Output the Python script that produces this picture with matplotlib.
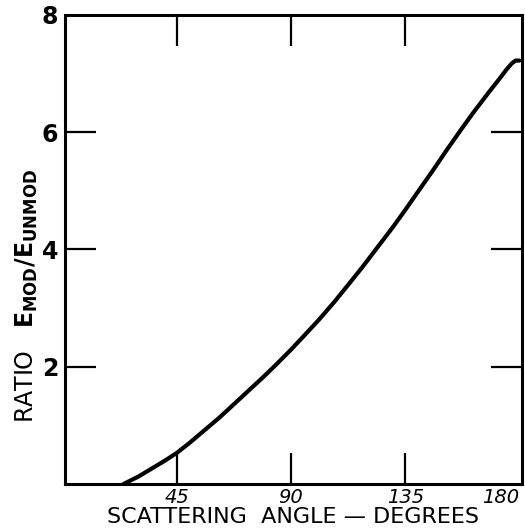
import matplotlib
matplotlib.use("Agg")
import matplotlib.pyplot as plt

angle = [24, 30, 35, 40, 45, 50, 56, 62, 67.5, 73, 79, 84, 90, 95, 101, 107, 113, 118, 124, 130, 135,
         140, 146, 151, 157, 162, 168, 172, 175, 177, 178.5, 180]
ratio = [0.0, 0.13, 0.26, 0.39, 0.53, 0.70, 0.92, 1.14, 1.36, 1.58, 1.82, 2.03, 2.29, 2.52, 2.80, 3.10,
         3.42, 3.69, 4.03, 4.37, 4.67, 4.98, 5.35, 5.67, 6.04, 6.34, 6.68, 6.90, 7.07, 7.17, 7.22, 7.22]

xticks = [45, 90, 135, 180]
yticks = [2, 4, 6, 8]

plt.rcParams['font.family'] = ['DejaVu Sans']

fig = plt.figure(figsize=(5.25, 5.29), dpi=100)
ax = fig.add_axes([0.124, 0.085, 0.87, 0.887])

ax.plot(angle, ratio, color='black', lw=3.0, solid_capstyle='round', solid_joinstyle='round')

ax.set_xlim(1, 181)
ax.set_ylim(0, 8)
ax.set_xticks(xticks)
ax.set_xticklabels([str(v) for v in xticks], fontsize=14, fontstyle='italic')
ax.set_yticks(yticks)
ax.set_yticklabels([str(v) for v in yticks], fontsize=17, fontweight='bold')

ax.tick_params(axis='both', direction='in', length=22, width=1.6, top=True, right=True, color='black')
ax.tick_params(axis='x', pad=3)
ax.tick_params(axis='y', pad=5)
for s in ax.spines.values():
    s.set_linewidth(2.2)
    s.set_color('black')

fig.canvas.draw()
xt = ax.xaxis.get_major_ticks()[-1]
xt.tick1line.set_visible(False)
xt.tick2line.set_visible(False)
xt.label1.set_horizontalalignment('right')
yt = ax.yaxis.get_major_ticks()[-1]
yt.tick1line.set_visible(False)
yt.tick2line.set_visible(False)

ax.set_xlabel('SCATTERING  ANGLE \u2014 DEGREES', fontsize=16, labelpad=0)
ax.set_ylabel(r'RATIO   $\mathbf{E_{MOD}/E_{UNMOD}}$', fontsize=17)
ax.yaxis.set_label_coords(-0.055, 0.40)

fig.savefig('out.png', dpi=100)
